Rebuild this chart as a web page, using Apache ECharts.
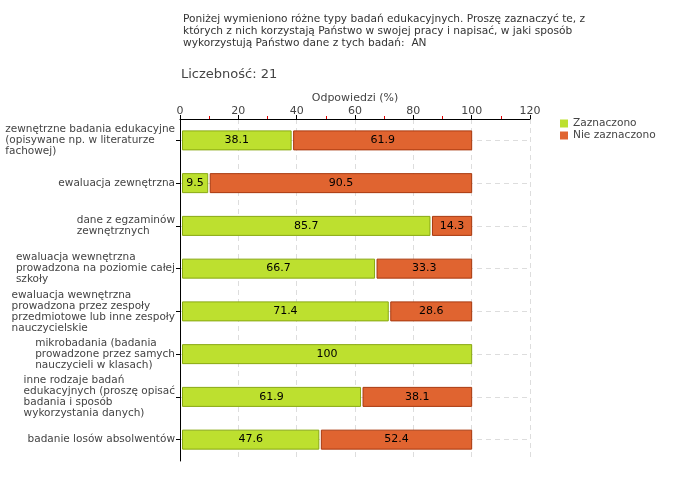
<!DOCTYPE html>
<html><head><meta charset="utf-8">
<script src="https://cdn.jsdelivr.net/npm/echarts@6/dist/echarts.min.js"></script>
<style>html,body{margin:0;padding:0;background:#fff}#c{width:680px;height:480px}</style>
</head><body><div id="c"></div>
<script>
const categories = [
  "zewnętrzne badania edukacyjne\n(opisywane np. w literaturze\nfachowej)",
  "ewaluacja zewnętrzna",
  "dane z egzaminów\nzewnętrznych",
  "ewaluacja wewnętrzna\nprowadzona na poziomie całej\nszkoły",
  "ewaluacja wewnętrzna\nprowadzona przez zespoły\nprzedmiotowe lub inne zespoły\nnauczycielskie",
  "mikrobadania (badania\nprowadzone przez samych\nnauczycieli w klasach)",
  "inne rodzaje badań\nedukacyjnych (proszę opisać\nbadania i sposób\nwykorzystania danych)",
  "badanie losów absolwentów"
];
const zaznaczono = [38.1, 9.5, 85.7, 66.7, 71.4, 100, 61.9, 47.6];
const nieZaznaczono = [61.9, 90.5, 14.3, 33.3, 28.6, 0, 38.1, 52.4];
const xTicks = [0, 20, 40, 60, 80, 100, 120];
const seriesNames = ["Zaznaczono", "Nie zaznaczono"];
const titleText = "Poniżej wymieniono różne typy badań edukacyjnych. Proszę zaznaczyć te, z\nktórych z nich korzystają Państwo w swojej pracy i napisać, w jaki sposób\nwykorzystują Państwo dane z tych badań:  AN";
const countText = "Liczebność: 21";
const axisName = "Odpowiedzi (%)";

const FONT = "DejaVu Sans";
const colors = [{fill: "#bde02f", border: "#88a812"}, {fill: "#e06430", border: "#a8380e"}];

function buildData(vals, base) {
  return vals.map((v, i) => [i, base ? base[i] : 0, (base ? base[i] : 0) + v, v]);
}
function makeRender(ci) {
  return function (params, api) {
    const v = api.value(3);
    if (!v) return null;
    const cat = api.value(0);
    const p0 = api.coord([api.value(1), cat]);
    const p1 = api.coord([api.value(2), cat]);
    const h = 19;
    const x0 = p0[0] + 2.5, x1 = p1[0];
    return {
      type: "group",
      children: [{
        type: "rect",
        shape: {x: x0, y: p0[1] - h / 2, width: x1 - x0, height: h},
        style: {fill: colors[ci].fill, stroke: colors[ci].border, lineWidth: 1}
      }, {
        type: "text",
        style: {
          x: (x0 + x1) / 2, y: p0[1], text: String(v), align: "center", verticalAlign: "middle",
          fill: "#000", font: "11px '" + FONT + "'"
        }
      }]
    };
  };
}

const chart = echarts.init(document.getElementById("c"));
chart.setOption({
  animation: false,
  textStyle: {fontFamily: FONT},
  title: [
    {text: titleText, left: 183, top: 13, padding: 0, textStyle: {fontSize: 10.6, fontWeight: "normal", color: "#333", lineHeight: 12, fontFamily: FONT}},
    {text: countText, left: 181, top: 68, padding: 0, textStyle: {fontSize: 13, fontWeight: "normal", color: "#444", fontFamily: FONT}}
  ],
  legend: {
    orient: "vertical", left: 560, top: 118, padding: 0, itemWidth: 8, itemHeight: 8, itemGap: 1, icon: "rect",
    textStyle: {fontSize: 10.6, color: "#444", fontFamily: FONT},
    data: seriesNames
  },
  grid: {left: 180, top: 119, right: 150, bottom: 19, containLabel: false, outerBoundsMode: "none"},
  xAxis: {
    type: "value", position: "top", min: xTicks[0], max: xTicks[xTicks.length - 1], interval: 20,
    name: axisName, nameLocation: "middle", nameGap: 15, nameMoveOverlap: false,
    nameTextStyle: {fontSize: 11, color: "#444", fontFamily: FONT},
    axisLine: {show: true, lineStyle: {color: "#000", width: 1}},
    axisTick: {show: true, length: 4, lineStyle: {color: "#000"}},
    minorTick: {show: true, splitNumber: 2, length: 3, lineStyle: {color: "#e00000"}},
    axisLabel: {fontSize: 11, color: "#444", margin: 2, fontFamily: FONT},
    splitLine: {show: true, lineStyle: {color: "#ddd", type: [5, 4]}}
  },
  yAxis: {
    type: "category", inverse: true, data: categories,
    axisLine: {show: true, lineStyle: {color: "#000"}},
    axisTick: {show: true, alignWithLabel: true, length: 4, lineStyle: {color: "#000"}},
    axisLabel: {
      fontSize: 10.5, color: "#444", margin: 5, lineHeight: 11, fontFamily: FONT,
      formatter: function (val) { return "{a|" + val.split("\n").join("}\n{a|") + "}"; },
      rich: {a: {align: "left", fontSize: 10.5, lineHeight: 11, color: "#444", fontFamily: FONT}}
    },
    splitLine: {show: true, alignWithLabel: true, lineStyle: {color: "#ddd", type: [5, 4]}}
  },
  series: [
    {name: seriesNames[0], type: "custom", renderItem: makeRender(0), itemStyle: {color: colors[0].fill},
     encode: {x: [1, 2], y: 0}, data: buildData(zaznaczono)},
    {name: seriesNames[1], type: "custom", renderItem: makeRender(1), itemStyle: {color: colors[1].fill},
     encode: {x: [1, 2], y: 0}, data: buildData(nieZaznaczono, zaznaczono)}
  ]
});
</script></body></html>
